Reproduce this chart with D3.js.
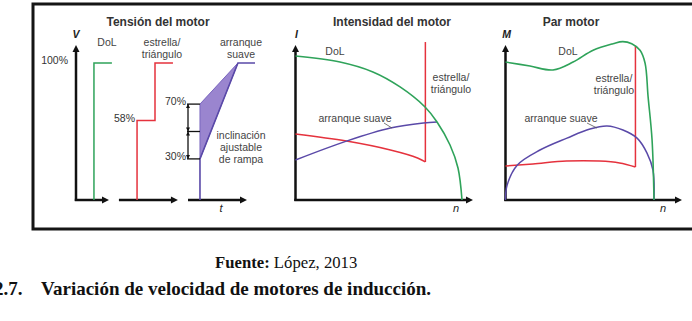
<!DOCTYPE html>
<html>
<head>
<meta charset="utf-8">
<script src="https://cdn.jsdelivr.net/npm/d3@7"></script>
<style>
  body { margin: 0; background: #fff; }
  svg { display: block; }
</style>
</head>
<body>
<div id="chart"></div>
<script>
// ---- data ----
// Tensión del motor (t arbitrary units, v in %)
var voltAxisSegments = [[0, 1.93], [2.51, 5.96], [6.55, 10]];
var voltDoL = [[1.05, 0], [1.05, 100], [2.1, 100]];
var voltStarDelta = [[3.57, 0], [3.57, 58], [4.62, 58], [4.62, 100], [5.67, 100]];
var voltSoft = [[7.25, 0], [7.25, 30], [9.47, 100], [10.47, 100]];
var voltSoftBand = [[7.25, 70], [9.47, 100], [7.25, 30]];
var voltLabels = [{v: 100, t: 0, label: "100%"}, {v: 58, t: 3.57, label: "58%"},
                  {v: 70, t: 6.55, label: "70%"}, {v: 30, t: 6.55, label: "30%"}];
var rampMid = 50;

// Intensidad del motor (n 0..1, I in %)
var curDoL = [[0, 100], [0.267, 95.8], [0.465, 88.9], [0.628, 78.5], [0.778, 64.6],
              [0.85, 54.2], [0.928, 38.2], [0.976, 22.2], [1, 0]];
var curStarDelta = [[0, 45.8], [0.306, 40.9], [0.57, 34.7], [0.733, 29.2], [0.78, 26.4]];
var curStarDeltaJump = [[0.78, 26.4], [0.78, 109.7]];
var curSoft = [[0, 27.8], [0.306, 40.9], [0.57, 50], [0.768, 53.5], [0.85, 54.2]];

// Par motor (n 0..1, M in %)
var torDoL = [[0, 95.8], [0.165, 93], [0.32, 90.3], [0.455, 95.8], [0.59, 104], [0.724, 108.5],
              [0.79, 110], [0.85, 108.5], [0.906, 104], [0.94, 95], [0.96, 72], [0.987, 41.7], [1, 0]];
var torStarDelta = [[0, 23.6], [0.185, 25], [0.41, 27], [0.633, 27], [0.768, 25.7], [0.875, 22.9]];
var torStarDeltaJump = [[0.875, 22.9], [0.875, 107]];
var torSoft = [[0, 0], [0.01, 10], [0.08, 24.3], [0.232, 34.7], [0.414, 43], [0.569, 49.3],
               [0.684, 51.4], [0.791, 48.6], [0.886, 43], [0.953, 32.6], [0.993, 20.8], [1, 0]];

var titles = ["Tensión del motor", "Intensidad del motor", "Par motor"];

// ---- colours ----
var green = "#2fa35a", red = "#e5323d", purple = "#5a49a8", purpleFill = "#9a85cf";
var axisColor = "#111", textColor = "#444";

var W = 692, H = 321;
var svg = d3.select("#chart").append("svg")
  .attr("width", W).attr("height", H)
  .style("font-family", "'Liberation Sans', Arial, sans-serif");

// frame
svg.append("rect")
  .attr("x", 33).attr("y", 4).attr("width", 670).attr("height", 225)
  .attr("fill", "none").attr("stroke", "#151515").attr("stroke-width", 3);

var baseY = 200;

function arrowRight(g, x, y) {
  g.append("path").attr("d", "M" + x + "," + y + "l-7,-3.5l0,7z").attr("fill", axisColor);
}
function arrowUp(g, x, y) {
  g.append("path").attr("d", "M" + x + "," + y + "l-3.5,7l7,0z").attr("fill", axisColor);
}
function label(g, x, y, lines, opts) {
  opts = opts || {};
  var t = g.append("text")
    .attr("x", x).attr("y", y)
    .attr("text-anchor", opts.anchor || "middle")
    .attr("fill", opts.color || textColor)
    .style("font-size", (opts.size || 10.5) + "px")
    .style("font-weight", opts.weight || "normal")
    .style("font-style", opts.style || "normal");
  lines.forEach(function(s, i) {
    t.append("tspan").attr("x", x).attr("dy", i === 0 ? 0 : 12).text(s);
  });
  return t;
}

// ---------------------------//
//   PANEL 1: Tensión         //
// ---------------------------//
var g1 = svg.append("g");
var tX = d3.scaleLinear().domain([0, 10]).range([76, 247]);
var vY = d3.scaleLinear().domain([0, 100]).range([baseY, 63]);
var lineV = d3.line().x(function(d) { return tX(d[0]); }).y(function(d) { return vY(d[1]); });

label(g1, 158, 26, [titles[0]], {size: 12, weight: "bold", color: "#333"});

// y axis
g1.append("line").attr("x1", tX(0)).attr("x2", tX(0)).attr("y1", baseY + 1).attr("y2", 51)
  .attr("stroke", axisColor).attr("stroke-width", 2.5);
arrowUp(g1, tX(0), 45);
label(g1, tX(0), 38, ["V"], {size: 10.5, weight: "bold", style: "italic", color: "#222"});

// t axis segments
voltAxisSegments.forEach(function(s) {
  g1.append("line").attr("x1", tX(s[0]) - (s[0] === 0 ? 1.2 : 0)).attr("x2", tX(s[1]) - 5)
    .attr("y1", baseY).attr("y2", baseY)
    .attr("stroke", axisColor).attr("stroke-width", 2.5);
  arrowRight(g1, tX(s[1]), baseY);
});
label(g1, 221, 212, ["t"], {size: 11, style: "italic", color: "#222"});

// soft start band
g1.append("path").datum(voltSoftBand)
  .attr("d", function(d) { return lineV(d) + "Z"; })
  .attr("fill", purpleFill).attr("stroke", "#7a66bf").attr("stroke-width", 1);

g1.append("path").datum(voltDoL).attr("d", lineV)
  .attr("fill", "none").attr("stroke", green).attr("stroke-width", 1.5);
g1.append("path").datum(voltStarDelta).attr("d", lineV)
  .attr("fill", "none").attr("stroke", red).attr("stroke-width", 1.5);
g1.append("path").datum(voltSoft).attr("d", lineV)
  .attr("fill", "none").attr("stroke", purple).attr("stroke-width", 1.6);

// percentage labels
voltLabels.forEach(function(d) {
  var off = d.t === 0 ? 8 : 2;
  label(g1, tX(d.t) - off, vY(d.v) + 1, [d.label], {anchor: "end", size: 10.5, color: "#333"});
});

// ramp adjust bracket
var bx = tX(6.55), sx = tX(7.25);
[70, rampMid, 30].forEach(function(v) {
  g1.append("line").attr("x1", bx - 1).attr("x2", sx).attr("y1", vY(v)).attr("y2", vY(v))
    .attr("stroke", axisColor).attr("stroke-width", 1.3);
});
g1.append("line").attr("x1", bx).attr("x2", bx).attr("y1", vY(70)).attr("y2", vY(30))
  .attr("stroke", axisColor).attr("stroke-width", 1.3);
[[70, -1], [rampMid, 1], [rampMid, -1], [30, 1]].forEach(function(a) {
  var y = vY(a[0]);
  g1.append("path")
    .attr("d", "M" + bx + "," + y + "l-2," + (-a[1] * 4) + "l4,0z")
    .attr("fill", axisColor);
});

label(g1, 107, 46, ["DoL"]);
label(g1, 162, 46, ["estrella/", "triángulo"]);
label(g1, 241, 46, ["arranque", "suave"]);
label(g1, 241, 139, ["inclinación", "ajustable", "de rampa"]);

// ---------------------------//
//   PANELS 2 & 3             //
// ---------------------------//
function curvePanel(opts) {
  var g = svg.append("g");
  var x = d3.scaleLinear().domain([0, 1]).range([opts.x0, opts.x1]);
  var y = d3.scaleLinear().domain([0, 100]).range([baseY, 56]);
  var smooth = d3.line().curve(d3.curveCatmullRom.alpha(0.5))
    .x(function(d) { return x(d[0]); }).y(function(d) { return y(d[1]); });
  var straight = d3.line()
    .x(function(d) { return x(d[0]); }).y(function(d) { return y(d[1]); });

  label(g, opts.titleX, 26, [opts.title], {size: 12, weight: "bold", color: "#333"});

  g.append("line").attr("x1", x(0)).attr("x2", x(0)).attr("y1", baseY + 1).attr("y2", 51)
    .attr("stroke", axisColor).attr("stroke-width", 2.5);
  arrowUp(g, x(0), 45);
  label(g, x(0) + 1, 38, [opts.yLabel], {size: 10.5, weight: "bold", style: "italic", color: "#222"});

  g.append("line").attr("x1", x(0) - 1.2).attr("x2", opts.axisEnd - 5).attr("y1", baseY).attr("y2", baseY)
    .attr("stroke", axisColor).attr("stroke-width", 2.5);
  arrowRight(g, opts.axisEnd, baseY);
  label(g, opts.nX, 212, ["n"], {size: 11, style: "italic", color: "#222"});

  g.append("path").datum(opts.star).attr("d", smooth)
    .attr("fill", "none").attr("stroke", red).attr("stroke-width", 1.5);
  g.append("path").datum(opts.starJump).attr("d", straight)
    .attr("fill", "none").attr("stroke", red).attr("stroke-width", 1.5);
  g.append("path").datum(opts.soft).attr("d", smooth)
    .attr("fill", "none").attr("stroke", purple).attr("stroke-width", 1.5);
  g.append("path").datum(opts.dol).attr("d", smooth)
    .attr("fill", "none").attr("stroke", green).attr("stroke-width", 1.6);

  label(g, opts.dolLabel[0], opts.dolLabel[1], ["DoL"]);
  label(g, opts.starLabel[0], opts.starLabel[1], ["estrella/", "triángulo"]);
  label(g, opts.softLabel[0], opts.softLabel[1], ["arranque suave"]);
  g.append("line")
    .attr("x1", opts.leader[0]).attr("y1", opts.leader[1])
    .attr("x2", opts.leader[2]).attr("y2", opts.leader[3])
    .attr("stroke", "#555").attr("stroke-width", 0.8);
}

curvePanel({
  title: titles[1], titleX: 392, yLabel: "I",
  x0: 295.5, x1: 462, axisEnd: 473, nX: 456,
  dol: curDoL, star: curStarDelta, starJump: curStarDeltaJump, soft: curSoft,
  dolLabel: [335, 55], starLabel: [451, 81], softLabel: [355, 122],
  leader: [384, 123, 392, 128]
});

curvePanel({
  title: titles[2], titleX: 571, yLabel: "M",
  x0: 505.5, x1: 654, axisEnd: 682, nX: 663,
  dol: torDoL, star: torStarDelta, starJump: torStarDeltaJump, soft: torSoft,
  dolLabel: [568, 55], starLabel: [614, 82], softLabel: [561, 122],
  leader: [587, 123, 597, 128]
});

// ---------------------------//
//   CAPTION                  //
// ---------------------------//
var cap = svg.append("text")
  .attr("x", 215).attr("y", 268)
  .style("font-family", "'Liberation Serif', 'Times New Roman', serif")
  .style("font-size", "16.7px").attr("fill", "#111");
cap.append("tspan").style("font-weight", "bold").text("Fuente:");
cap.append("tspan").text(" López, 2013");

svg.append("text")
  .attr("x", -6).attr("y", 295)
  .style("font-family", "'Liberation Serif', 'Times New Roman', serif")
  .style("font-size", "19px").style("font-weight", "bold").attr("fill", "#111")
  .text("2.7.");
svg.append("text")
  .attr("x", 41).attr("y", 295)
  .style("font-family", "'Liberation Serif', 'Times New Roman', serif")
  .style("font-size", "19px").style("font-weight", "bold").attr("fill", "#111")
  .text("Variación de velocidad de motores de inducción.");
</script>
</body>
</html>
